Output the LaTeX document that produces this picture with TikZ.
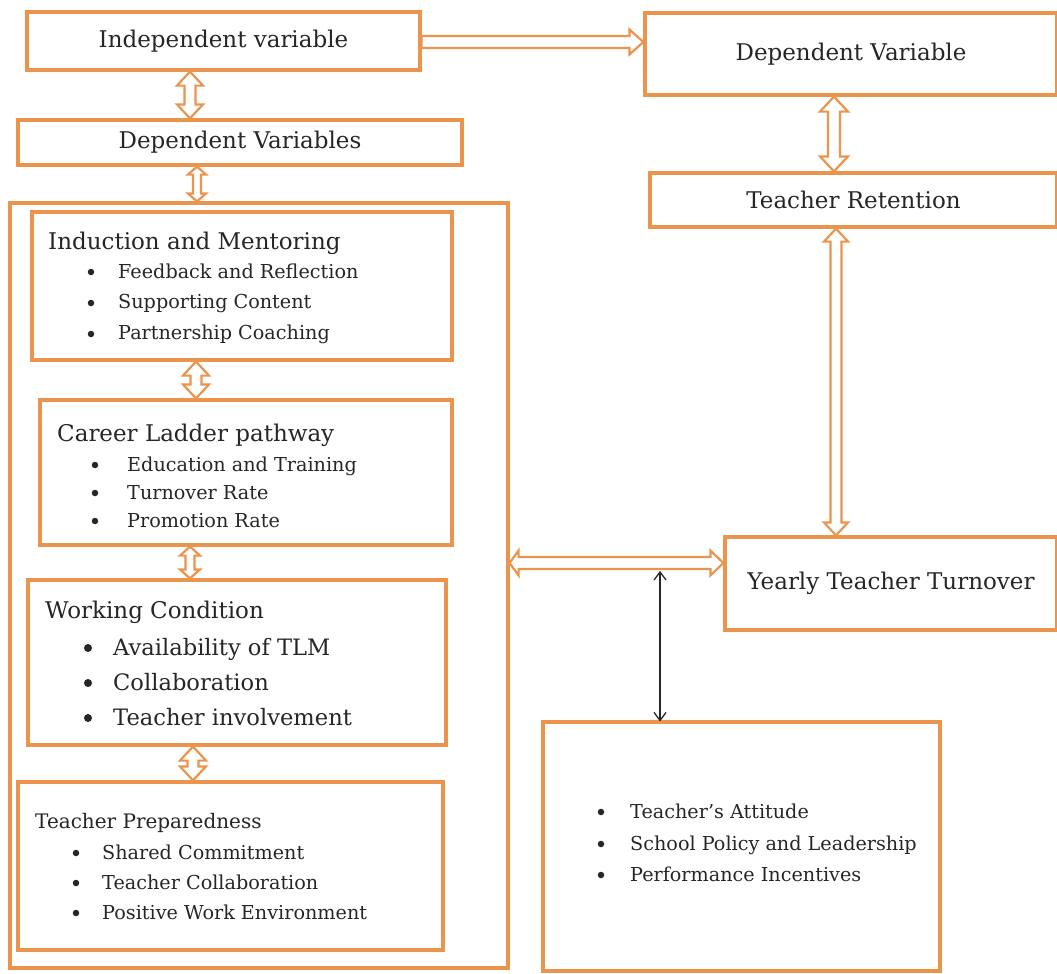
\documentclass[tikz,border=0pt]{standalone}
\usepackage{fontspec}
\setmainfont{DejaVu Serif}
\usetikzlibrary{calc}
\definecolor{oc}{RGB}{234,148,78}
\definecolor{tc}{RGB}{38,38,38}
\tikzset{
  box/.style={draw=oc, line width=3.2pt, fill=white, inner sep=0pt, text=tc},
  mt/.style={font=\fontsize{23}{26}\selectfont},
  ba/.style={draw=oc, line width=2.2pt, fill=white, line join=miter},
  % vertical double-headed block arrow, start above target
  vba/.style n args={3}{ba, to path={let \p1=(\tikztostart), \p2=(\tikztotarget) in
     (\x1,\y1) -- (\x1+#2,\y1-#3) -- (\x1+#1,\y1-#3) -- (\x1+#1,\y2+#3) -- (\x1+#2,\y2+#3) -- (\x1,\y2)
     -- (\x1-#2,\y2+#3) -- (\x1-#1,\y2+#3) -- (\x1-#1,\y1-#3) -- (\x1-#2,\y1-#3) -- cycle}},
  % horizontal double-headed block arrow, start left of target
  hba/.style n args={4}{ba, to path={let \p1=(\tikztostart), \p2=(\tikztotarget) in
     (\x1,\y1) -- (\x1+#3,\y1+#2) -- (\x1+#3,\y1+#1) -- (\x2-#4,\y1+#1) -- (\x2-#4,\y1+#2) -- (\x2,\y1)
     -- (\x2-#4,\y1-#2) -- (\x2-#4,\y1-#1) -- (\x1+#3,\y1-#1) -- (\x1+#3,\y1-#2) -- cycle}},
  % horizontal single-headed block arrow
  hsa/.style n args={3}{ba, to path={let \p1=(\tikztostart), \p2=(\tikztotarget) in
     (\x1,\y1+#1) -- (\x2-#3,\y1+#1) -- (\x2-#3,\y1+#2) -- (\x2,\y1)
     -- (\x2-#3,\y1-#2) -- (\x2-#3,\y1-#1) -- (\x1,\y1-#1) -- cycle}},
  hd/.style={anchor=base west, inner sep=0pt, text=tc, font=\fontsize{23}{26}\selectfont},
  it/.style={anchor=base west, inner sep=0pt, text=tc, font=\fontsize{19.2}{22}\selectfont},
  itb/.style={anchor=base west, inner sep=0pt, text=tc, font=\fontsize{22.6}{25}\selectfont},
  bl/.style={circle, fill=tc, inner sep=0pt, minimum size=6.5pt},
}
\begin{document}
\begin{tikzpicture}[x=1pt,y=-1pt]
\useasboundingbox (0,0) rectangle (1057,974);
% outer box
\node[box, minimum width=498, minimum height=765, fill=none] (outer) at (259,585.5) {};
% top boxes
\node[box, mt, minimum width=393, minimum height=58] (ind) at (223.5,41) {Independent variable};
\node[box, mt, minimum width=412, minimum height=82] (dv) at (851,54) {Dependent Variable};
\node[box, mt, minimum width=444, minimum height=45] (dvs) at (240,142.5) {Dependent Variables};
\node[box, mt, minimum width=407, minimum height=54] (tr) at (853.5,200) {Teacher Retention};
\node[box, mt, minimum width=332, minimum height=93] (ytt) at (891,583.5) {Yearly Teacher Turnover};
\node[box, minimum width=397, minimum height=249, fill=none] (bot) at (741.5,846.5) {};
% inner boxes
\node[box, minimum width=420, minimum height=148] (im) at (242,286) {};
\node[box, minimum width=412, minimum height=145] (cl) at (246,472.5) {};
\node[box, minimum width=418, minimum height=165] (wc) at (237,662.5) {};
\node[box, minimum width=425, minimum height=168] (tp) at (230.5,866) {};
% Induction and Mentoring
\node[hd] (im0) at (48,249) {Induction and Mentoring};
\node[bl] at (91,272) {}; \node[it] (im1) at (118,278) {Feedback and Reflection};
\node[bl] at (91,303) {}; \node[it] (im2) at (118,308) {Supporting Content};
\node[bl] at (91,334) {}; \node[it] (im3) at (118,339) {Partnership Coaching};
% Career Ladder
\node[hd] (cl0) at (57,441) {Career Ladder pathway};
\node[bl] at (95,465) {}; \node[it] (cl1) at (127,471) {Education and Training};
\node[bl] at (95,493) {}; \node[it] (cl2) at (127,499) {Turnover Rate};
\node[bl] at (95,521) {}; \node[it] (cl3) at (127,527) {Promotion Rate};
% Working Condition
\node[hd] (wc0) at (45,618) {Working Condition};
\node[bl, minimum size=8pt] at (88,648) {}; \node[itb] (wc1) at (113,655) {Availability of TLM};
\node[bl, minimum size=8pt] at (88,683) {}; \node[itb] (wc2) at (113,690) {Collaboration};
\node[bl, minimum size=8pt] at (88,718) {}; \node[itb] (wc3) at (113,725) {Teacher involvement};
% Teacher Preparedness
\node[it, font=\fontsize{20}{22}\selectfont] (tp0) at (35,828) {Teacher Preparedness};
\node[bl] at (76,853) {}; \node[it] (tp1) at (102,859) {Shared Commitment};
\node[bl] at (76,883) {}; \node[it] (tp2) at (102,889) {Teacher Collaboration};
\node[bl] at (76,913) {}; \node[it] (tp3) at (102,919) {Positive Work Environment};
% bottom right
\node[bl] at (601,812) {}; \node[it] (b1) at (630,818) {Teacher’s Attitude};
\node[bl] at (601,844) {}; \node[it] (b2) at (630,850) {School Policy and Leadership};
\node[bl] at (601,875) {}; \node[it] (b3) at (630,881) {Performance Incentives};
% block arrows
\draw[vba={5.5pt}{13pt}{14pt}] (ind.south -| 190,0) to (dvs.north -| 190,0);
\draw[vba={4pt}{9pt}{8pt}] (dvs.south -| 197,0) to (outer.north -| 197,0);
\draw[vba={5.5pt}{13pt}{14pt}] (im.south -| 196,0) to (cl.north -| 196,0);
\draw[vba={4.5pt}{10pt}{9pt}] (cl.south -| 190,0) to (wc.north -| 190,0);
\draw[vba={5.5pt}{13pt}{14pt}] (wc.south -| 193,0) to (tp.north -| 193,0);
\draw[vba={6pt}{14pt}{15pt}] (dv.south -| 834,0) to (tr.north -| 834,0);
\draw[vba={5.5pt}{12pt}{13pt}] (tr.south -| 836,0) to (ytt.north -| 836,0);
\draw[hsa={6pt}{12.5pt}{14pt}] (ind.east |- 0,42) to (dv.west |- 0,42);
\draw[hba={6pt}{12.5pt}{9pt}{13pt}] (outer.east |- 0,563) to (ytt.west |- 0,563);
\coordinate (hj) at (660,572);
\draw[tc, line width=1.3pt] (hj) -- (bot.north -| hj);
\draw[tc, line width=1.3pt] ($(hj)+(-6,8)$) -- (hj) -- ($(hj)+(6,8)$);
\draw[tc, line width=1.3pt] ($(bot.north -| hj)+(-6,-8)$) -- (bot.north -| hj) -- ($(bot.north -| hj)+(6,-8)$);
\end{tikzpicture}
\end{document}
